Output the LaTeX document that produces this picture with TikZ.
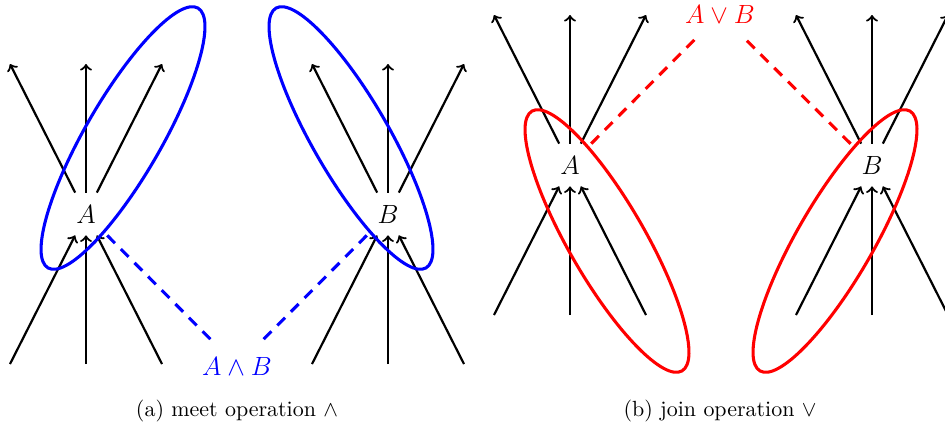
\documentclass[tikz,border=0pt]{standalone}
\usepackage{amsmath}
\usetikzlibrary{calc}

\begin{document}
\begin{tikzpicture}[>=to,
    elt/.style={minimum size=0.67cm,inner sep=0pt,font=\large},
    opname/.style={minimum height=0.8cm,inner sep=2pt,font=\large},
    edge/.style={->,line width=1pt},
    ring/.style={line width=1.4pt},
    opline/.style={line width=1.4pt,dash pattern=on 5pt off 3.8pt}]
  \useasboundingbox (0,0) rectangle (15.12,6.848);
  % the two elements, once per panel
  \node[elt] (a1) at (1.376,3.424) {$A$};
  \node[elt] (b1) at (6.208,3.424) {$B$};
  \node[elt] (a2) at (9.12,4.208) {$A$};
  \node[elt] (b2) at (13.952,4.208) {$B$};
  \foreach \n in {a1,b1,a2,b2}
    \foreach \dx [count=\i] in {-1.216,0,1.216} {
      \path (\n) ++(\dx,2.4) coordinate (\n-u\i) (\n) ++(\dx,-2.4) coordinate (\n-d\i);
      \draw[edge] (\n) -- (\n-u\i);
      \draw[edge] (\n-d\i) -- (\n);
    }
  % (a) meet
  \draw[ring,blue,rotate around={60:(1.968,4.64)}] (1.968,4.64) ellipse (2.4 and 0.61);
  \draw[ring,blue,rotate around={-60:(5.616,4.64)}] (5.616,4.64) ellipse (2.4 and 0.61);
  \node[opname,text=blue] (meet) at (3.792,0.992) {$A \wedge B$};
  \draw[opline,blue] (a1) -- (meet);
  \draw[opline,blue] (b1) -- (meet);
  % (b) join
  \draw[ring,red,rotate around={-60:(9.712,2.992)}] (9.712,2.992) ellipse (2.4 and 0.61);
  \draw[ring,red,rotate around={60:(13.36,2.992)}] (13.36,2.992) ellipse (2.4 and 0.61);
  \node[opname,text=red] (join) at (11.52,6.624) {$A \vee B$};
  \draw[opline,red] (a2) -- (join);
  \draw[opline,red] (b2) -- (join);
  % captions
  \node (capa) at (3.792,0.272) {(a) meet operation $\wedge$};
  \node (capb) at (11.52,0.272) {(b) join operation $\vee$};
\end{tikzpicture}
\end{document}
